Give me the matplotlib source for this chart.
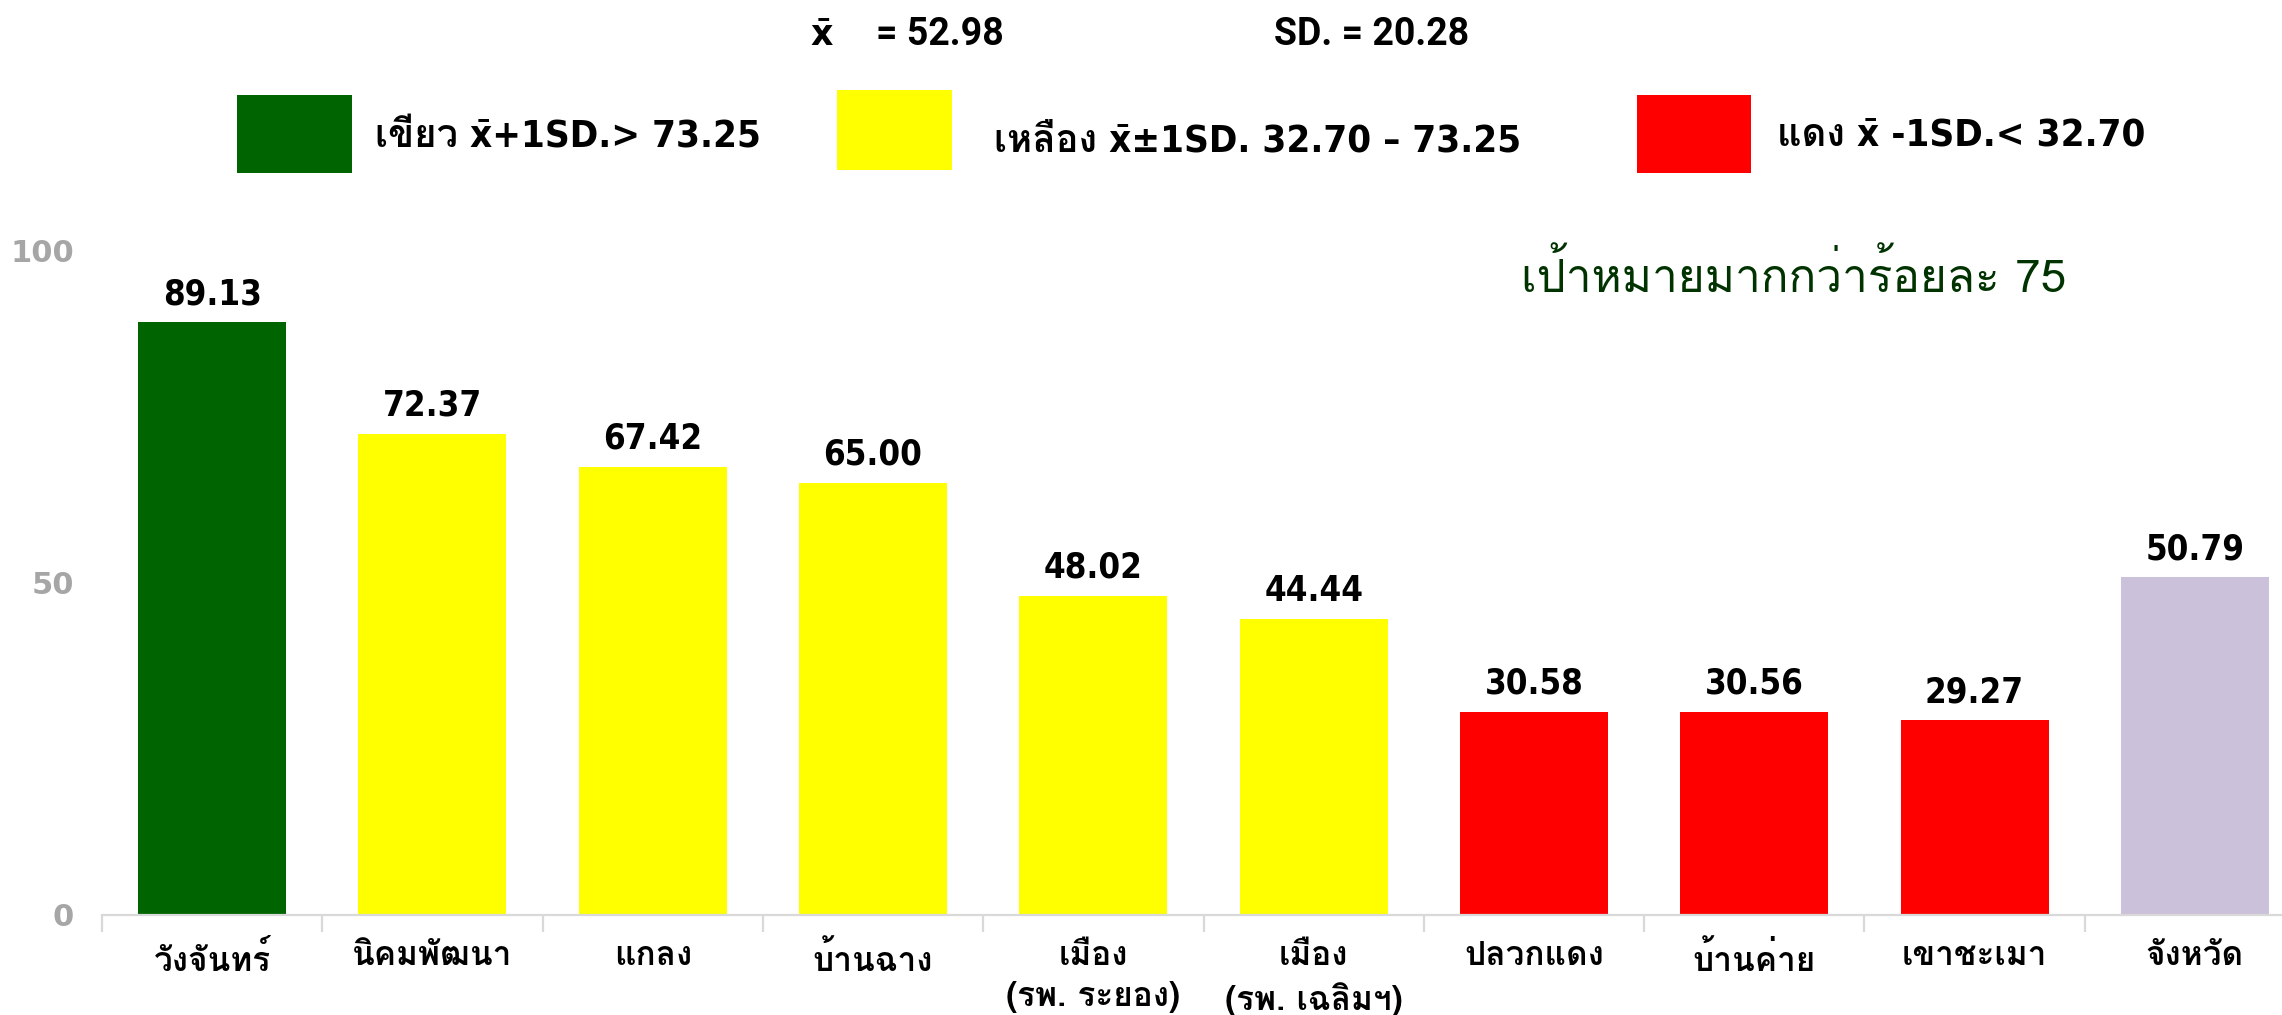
import matplotlib
matplotlib.use('Agg')
import matplotlib.pyplot as plt
from matplotlib import font_manager as fm
from matplotlib.ft2font import FT2Font
from matplotlib.patches import Rectangle

# ---------------- data ----------------
districts = ['วังจันทร์', 'นิคมพัฒนา', 'แกลง', 'บ้านฉาง', 'เมือง\n(รพ. ระยอง)',
             'เมือง\n(รพ. เฉลิมฯ)', 'ปลวกแดง', 'บ้านค่าย', 'เขาชะเมา', 'จังหวัด']
values = [89.13, 72.37, 67.42, 65.00, 48.02, 44.44, 30.58, 30.56, 29.27, 50.79]
groups = ['green', 'yellow', 'yellow', 'yellow', 'yellow', 'yellow',
          'red', 'red', 'red', 'province']
yticks = [0, 50, 100]
mean_symbol = 'x\u0304'
mean_text = '= 52.98'
sd_text = 'SD. = 20.28'
legend_texts = ['เขียว x\u0304+1SD.> 73.25',
                'เหลือง x\u0304\u00b11SD. 32.70 \u2013 73.25',
                'แดง x\u0304 -1SD.< 32.70']
legend_groups = ['green', 'yellow', 'red']
target_text = 'เป้าหมายมากกว่าร้อยละ 75'

color_map = {'green': '#006400', 'yellow': '#FFFF00', 'red': '#FF0000',
             'province': '#CCC1DA'}

# ---------------- fonts ----------------
def find_thai_font():
    prefs = ['Tahoma', 'Loma', 'Waree', 'Noto Sans Thai Looped', 'Garuda',
             'Umpush', 'Noto Sans Thai', 'Noto Serif Thai', 'Sarabun',
             'Kinnari', 'Norasi', 'Laksaman']
    found = {}
    checked = set()

    def ok(path):
        try:
            ft = FT2Font(path)
            return ft.get_char_index(ord('\u0e01')) != 0 and ft.get_char_index(ord('\u0e31')) != 0
        except Exception:
            return False

    entries = fm.fontManager.ttflist
    first = [e for e in entries if 'thai' in e.name.lower() or e.name in prefs]
    for e in first:
        if e.fname in checked:
            continue
        checked.add(e.fname)
        if ok(e.fname):
            found.setdefault(e.name, e)
    if not found:
        for e in entries:
            if e.fname in checked or e.name in found:
                continue
            checked.add(e.fname)
            if ok(e.fname):
                found.setdefault(e.name, e)
    for p in prefs:
        if p in found:
            return p
    if found:
        return sorted(found)[0]
    return 'DejaVu Sans'

THAI = find_thai_font()
names = {e.name for e in fm.fontManager.ttflist}
has_cond = any(e.name == 'DejaVu Sans' and e.stretch == 'condensed'
               for e in fm.fontManager.ttflist)
k = 1.0 if has_cond else 0.9
if 'Roboto' in names:
    HEAD = ['Roboto', 'DejaVu Sans']
    head_size = 27
else:
    HEAD = ['DejaVu Sans']
    head_size = 22

W, H = 2282, 1015
fig = plt.figure(figsize=(W / 100, H / 100), dpi=100)


def fx(x):
    return x / W


def fy(y):
    return 1 - y / H


# ---------------- axes ----------------
ax = fig.add_axes([fx(102), fy(915), 2203 / W, 665 / H])
xpos = list(range(len(values)))
bar_colors = [color_map[g] for g in groups]
ax.bar(xpos, values, width=0.672, color=bar_colors, zorder=2)
ax.set_xlim(-0.5, len(values) - 0.5)
ax.set_ylim(0, 100)
for s in ['top', 'right', 'left']:
    ax.spines[s].set_visible(False)
ax.spines['bottom'].set_color('#D9D9D9')
ax.spines['bottom'].set_linewidth(1.6)

ax.set_yticks(yticks)
ax.set_yticklabels([str(t) for t in yticks], fontfamily='DejaVu Sans',
                   fontweight='bold', fontsize=22, color='#A6A6A6')
ax.tick_params(axis='y', length=0, pad=20)

ax.set_xticks(xpos)
ax.set_xticklabels(districts, fontfamily=[THAI, 'DejaVu Sans'],
                   fontweight='bold', fontsize=24, linespacing=1.38)
ax.set_xticks([i - 0.5 for i in range(len(values) + 1)], minor=True)
ax.tick_params(axis='x', which='major', length=0, pad=19)
ax.tick_params(axis='x', which='minor', length=12, color='#D9D9D9', width=1.6)

for i, v in enumerate(values):
    ax.annotate(f'{v:.2f}', xy=(i, v), xytext=(0, 13),
                textcoords='offset points', ha='center', va='baseline',
                fontfamily='DejaVu Sans', fontweight='bold',
                fontstretch='condensed', fontsize=25 * k, color='black',
                annotation_clip=False)

# ---------------- header ----------------
fig.text(fx(810), fy(45), mean_symbol, ha='left', va='baseline',
         fontfamily=['DejaVu Sans'], fontweight='bold', fontsize=25 * k)
fig.text(fx(1004), fy(45), mean_text, ha='right', va='baseline',
         fontfamily=HEAD, fontweight='bold', fontsize=head_size)
fig.text(fx(1372), fy(45), sd_text, ha='center', va='baseline',
         fontfamily=HEAD, fontweight='bold', fontsize=head_size)

rects = [(237, 95, 115, 78), (837, 90, 115, 80), (1637, 95, 114, 78)]
text_pos = [(375, 148), (994, 151), (1777, 146)]
for g, (rx, ry, rw, rh), (tx, ty), t in zip(legend_groups, rects, text_pos, legend_texts):
    fig.patches.append(Rectangle((fx(rx), fy(ry + rh)), rw / W, rh / H,
                                 transform=fig.transFigure,
                                 facecolor=color_map[g], edgecolor='none'))
    fig.text(fx(tx), fy(ty), t, ha='left', va='baseline',
             fontfamily=['DejaVu Sans', THAI], fontweight='bold',
             fontstretch='condensed', fontsize=27.5 * k)

fig.text(fx(2066), fy(292), target_text, ha='right', va='baseline',
         fontfamily=[THAI, 'DejaVu Sans'], fontsize=33, color='#003300')

fig.savefig('out.png', dpi=100)
